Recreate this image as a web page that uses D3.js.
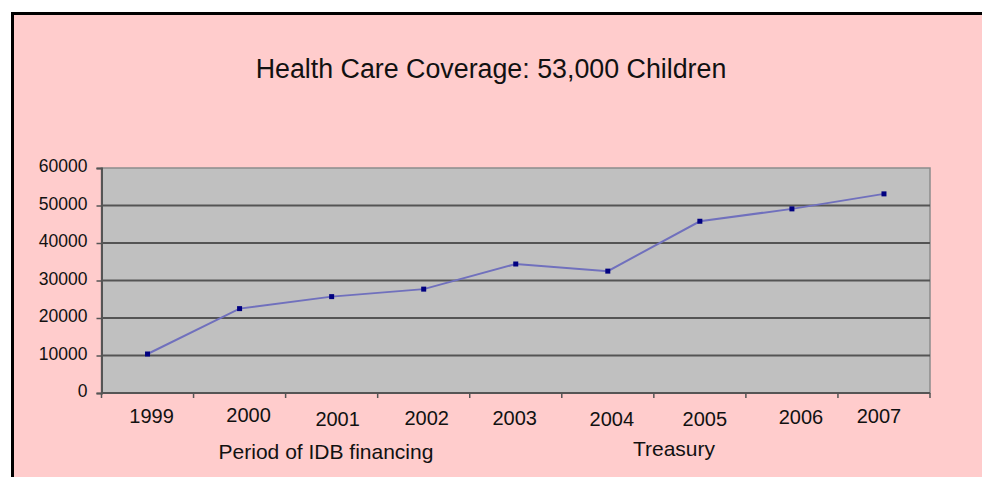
<!DOCTYPE html>
<html>
<head>
<meta charset="utf-8">
<script src="https://cdn.jsdelivr.net/npm/d3@7/dist/d3.min.js"></script>
<style>
  html, body { margin: 0; padding: 0; background: #ffffff; }
  svg { display: block; }
  text { font-family: "Liberation Sans", Arial, sans-serif; fill: #111; }
</style>
</head>
<body>
<svg id="chart" width="982" height="477"></svg>
<script>
// ---- data ----
const years = ["1999", "2000", "2001", "2002", "2003", "2004", "2005", "2006", "2007"];
const children = [10400, 22500, 25700, 27700, 34400, 32500, 45800, 49100, 53100];
const yTicks = [0, 10000, 20000, 30000, 40000, 50000, 60000];
const title = "Health Care Coverage: 53,000 Children";
const periodLabels = ["Period of IDB financing", "Treasury"];

// ---- style / layout ----
const W = 982, H = 477;
const plot = { left: 101.5, right: 930, top: 168, bottom: 393 };
// small hand-placement offsets of the year labels in the original
const labelNudgeX = [4, 9, 6, 3, -1, 4, 5, 9, -5];
const labelNudgeY = [0, -1, 3, 2, 2, 3, 3, 1, 0];

const svg = d3.select("#chart");

// background
svg.append("rect").attr("x", 0).attr("y", 0).attr("width", W).attr("height", H).attr("fill", "#ffffff");
svg.append("rect").attr("x", 14).attr("y", 14).attr("width", W - 14).attr("height", H - 14).attr("fill", "#ffcccc");
// frame (top + left)
svg.append("path").attr("d", `M12.5,${H} L12.5,13.5 L${W},13.5`)
  .attr("fill", "none").attr("stroke", "#000").attr("stroke-width", 3);

// title
svg.append("text").attr("x", 491).attr("y", 78).attr("text-anchor", "middle")
  .attr("font-size", 26.8).text(title);

const x = d3.scaleBand().domain(years).range([plot.left, plot.right]);
const y = d3.scaleLinear().domain([0, 60000]).range([plot.bottom, plot.top]);

// plot area
svg.append("rect").attr("x", plot.left).attr("y", plot.top)
  .attr("width", plot.right - plot.left).attr("height", plot.bottom - plot.top)
  .attr("fill", "#c0c0c0").attr("stroke", "#8c8c8c").attr("stroke-width", 1.5);

// gridlines
svg.append("g").selectAll("line").data(yTicks.filter(d => d > 0 && d < 60000)).join("line")
  .attr("x1", plot.left).attr("x2", plot.right)
  .attr("y1", d => y(d)).attr("y2", d => y(d))
  .attr("stroke", "#545454").attr("stroke-width", 2);

// y axis
const yAxis = svg.append("g").attr("transform", `translate(${plot.left},0)`)
  .call(d3.axisLeft(y).tickValues(yTicks).tickFormat(d3.format("d")).tickSize(5).tickPadding(9));
yAxis.select(".domain").attr("stroke", "#555").attr("stroke-width", 2);
yAxis.selectAll(".tick line").attr("stroke", "#555").attr("stroke-width", 1.5);
yAxis.selectAll(".tick text").attr("font-size", 17.5).attr("font-family", "Liberation Sans, Arial, sans-serif")
  .attr("fill", "#111").attr("dy", "0.2em");

// x axis (ticks at band boundaries)
const xAxisG = svg.append("g").attr("transform", `translate(0,${plot.bottom})`);
xAxisG.append("line").attr("x1", plot.left).attr("x2", plot.right).attr("y1", 0).attr("y2", 0)
  .attr("stroke", "#555").attr("stroke-width", 2);
const bounds = years.map(d => x(d)).concat([x(years[years.length - 1]) + x.bandwidth()]);
xAxisG.selectAll("line.tk").data(bounds).join("line").attr("class", "tk")
  .attr("x1", d => d).attr("x2", d => d).attr("y1", 0).attr("y2", 5)
  .attr("stroke", "#555").attr("stroke-width", 1.5);
xAxisG.selectAll("text.yr").data(years).join("text").attr("class", "yr")
  .attr("x", (d, i) => x(d) + x.bandwidth() / 2 + labelNudgeX[i])
  .attr("y", (d, i) => 30 + labelNudgeY[i])
  .attr("text-anchor", "middle").attr("font-size", 20).text(d => d);

// period labels
svg.append("text").attr("x", 326).attr("y", 459).attr("text-anchor", "middle")
  .attr("font-size", 21).text(periodLabels[0]);
svg.append("text").attr("x", 674).attr("y", 456).attr("text-anchor", "middle")
  .attr("font-size", 21).text(periodLabels[1]);

// line
const cx = d => x(d) + x.bandwidth() / 2;
const line = d3.line().x((d, i) => cx(years[i])).y(d => y(d));
svg.append("path").datum(children).attr("d", line)
  .attr("fill", "none").attr("stroke", "#7070bd").attr("stroke-width", 2);

// markers
svg.append("g").selectAll("rect").data(children).join("rect")
  .attr("x", (d, i) => cx(years[i]) - 2.5).attr("y", d => y(d) - 2.5)
  .attr("width", 5).attr("height", 5).attr("fill", "#000080");
</script>
</body>
</html>
